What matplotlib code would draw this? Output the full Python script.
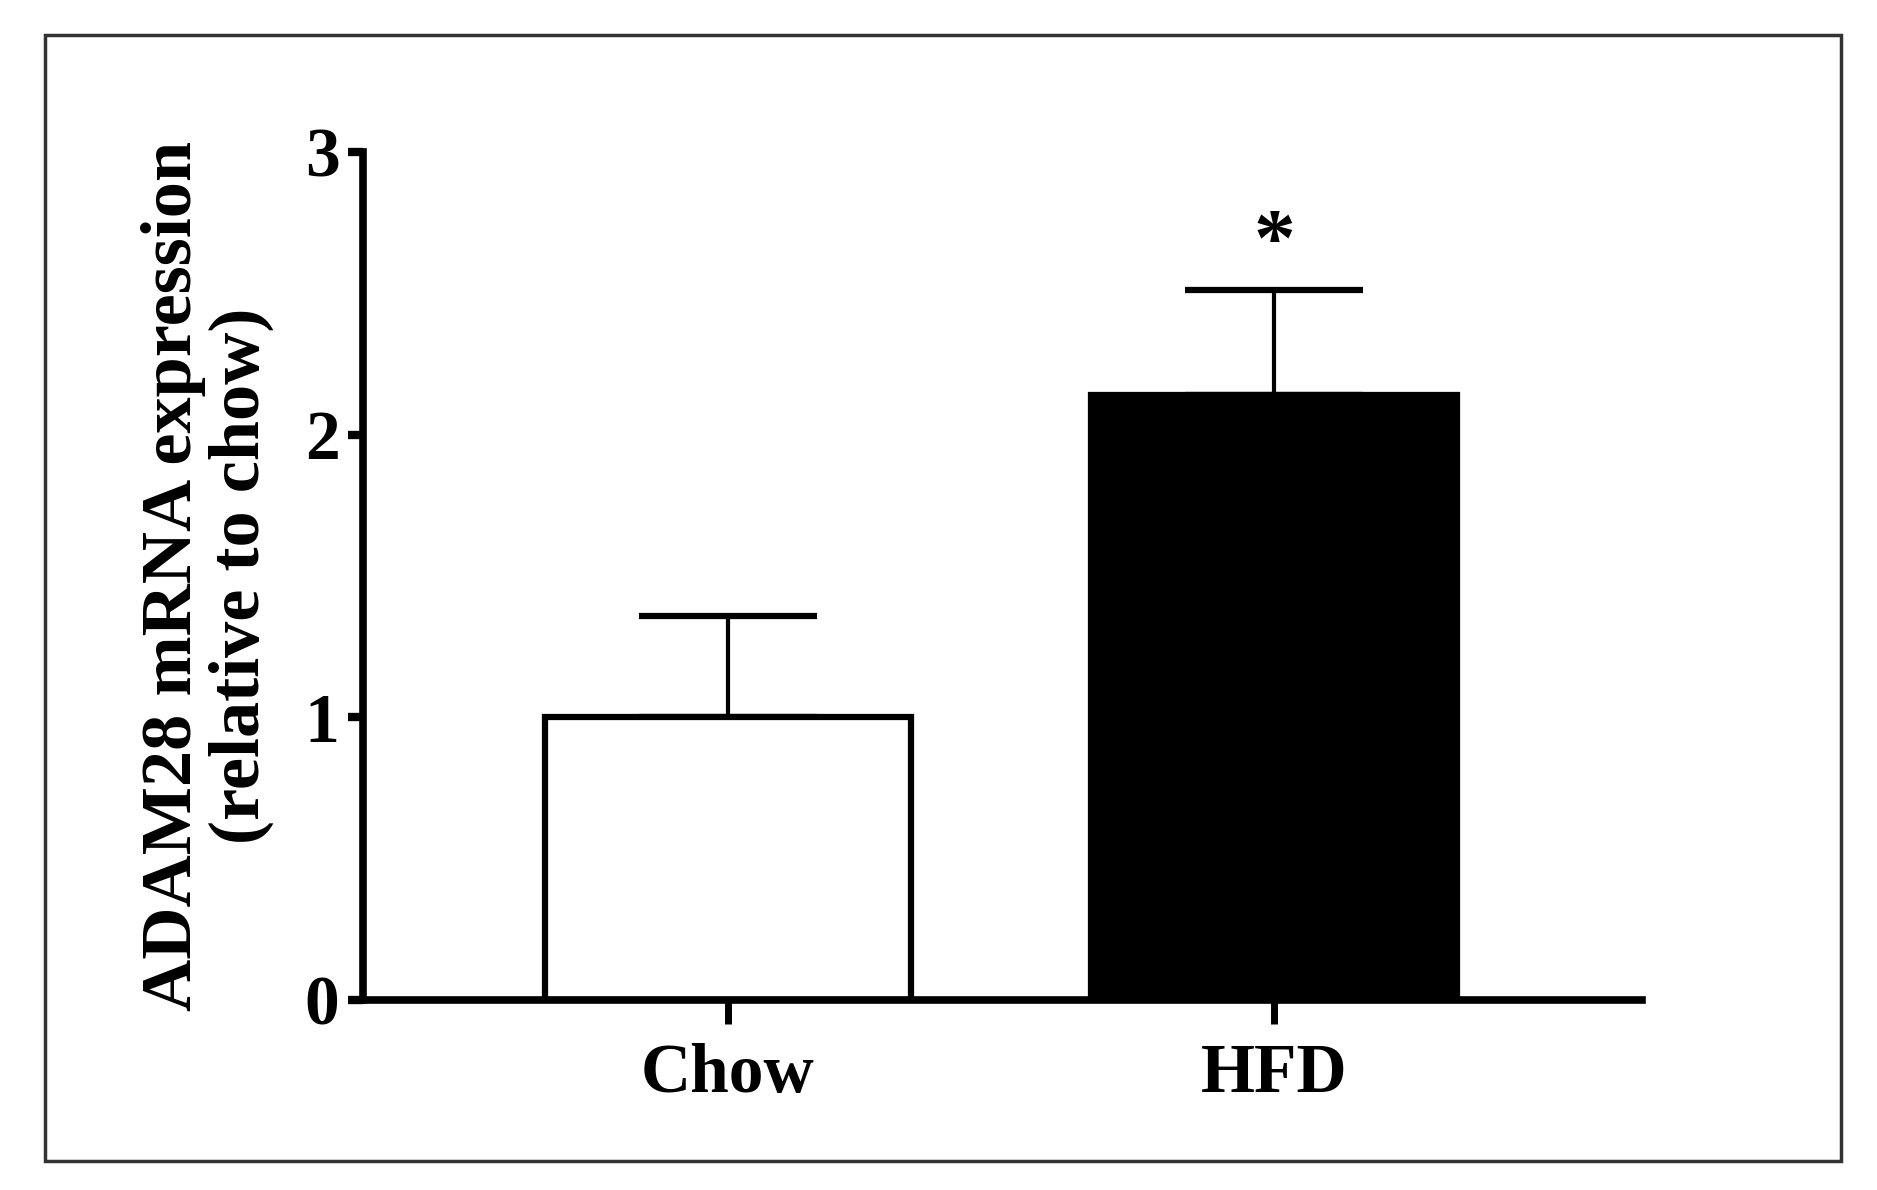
import numpy as np
import matplotlib.pyplot as plt
from matplotlib.patches import Rectangle

# Daten
groups = ['Chow', 'HFD']
means = [1.0, 2.14]
sem = [0.357, 0.37]
colors = ['white', 'black']

plt.rcParams['font.family'] = ['Liberation Serif', 'DejaVu Serif']
plt.rcParams['font.weight'] = 'bold'

fig = plt.figure(figsize=(18.77, 11.9), dpi=100)
ax = fig.add_axes([0.1934, 0.1597, 0.6814, 0.7126])

x = np.arange(len(groups))
ax.bar(x, means, width=0.67, color=colors, edgecolor='black', linewidth=4.5, zorder=2)
ax.errorbar(x, means, yerr=[np.zeros(len(sem)), sem], fmt='none', ecolor='black',
            elinewidth=3, capsize=64, capthick=4.5, zorder=1)

# Signifikanz
ax.text(1, 2.67, '*', ha='center', va='center', fontsize=60, fontweight='bold')

ax.set_xlim(-0.668, 1.674)
ax.set_ylim(0, 3)
ax.set_yticks([0, 1, 2, 3])
ax.set_xticks(x)
ax.set_xticklabels(groups)
ax.tick_params(axis='y', length=11, width=6, pad=6, labelsize=50)
ax.tick_params(axis='x', length=17, width=5, pad=14, labelsize=50)
for s in ['top', 'right']:
    ax.spines[s].set_visible(False)
for s in ['left', 'bottom']:
    ax.spines[s].set_linewidth(5.5)

ax.set_ylabel('ADAM28 mRNA expression\n(relative to chow)', fontsize=52,
              fontweight='bold', linespacing=1.05, labelpad=22)

# Rahmen
fig.patches.append(Rectangle((0.024, 0.0244), 0.957, 0.9466, transform=fig.transFigure,
                             fill=False, edgecolor='#333333', linewidth=2.5))

fig.savefig('out.png', dpi=100)
